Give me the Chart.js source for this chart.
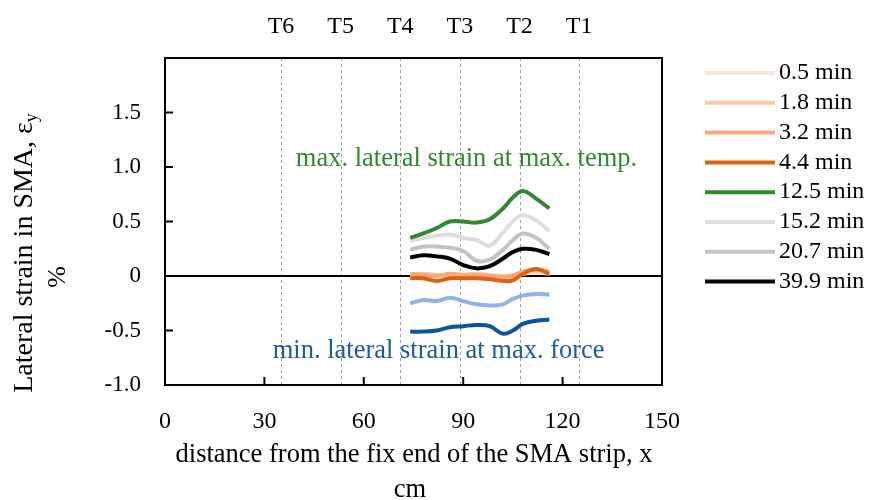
<!DOCTYPE html>
<html>
<head>
<meta charset="utf-8">
<script src="https://cdn.jsdelivr.net/npm/chart.js@4.4.1/dist/chart.umd.min.js"></script>
<style>
  html, body { margin: 0; padding: 0; background: #fff; }
  #wrap { width: 869px; height: 500px; }
</style>
</head>
<body>
<div id="wrap"><canvas id="chart" width="869" height="500"></canvas></div>
<script>
// distance along the strip (cm) where strain was sampled
const distance = [74, 78, 82, 86, 90, 94, 98, 102, 105, 108, 112, 116];

// lateral strain (%) per elapsed time
const strain05 = [0.00, 0.01, 0.00, 0.01, 0.00, 0.00, 0.01, 0.00, 0.00, 0.02, 0.03, 0.02];
const strain18 = [0.01, 0.02, 0.01, 0.00, 0.01, 0.02, 0.01, 0.00, 0.01, 0.03, 0.05, 0.03];
const strain32 = [0.02, 0.01, 0.00, 0.02, 0.01, 0.01, 0.00, -0.01, 0.00, 0.04, 0.06, 0.04];
const strain44 = [-0.02, -0.02, -0.045, -0.02, -0.02, -0.02, -0.03, -0.045, -0.04, 0.02, 0.065, 0.02];
const strain125 = [0.35, 0.39, 0.44, 0.50, 0.50, 0.49, 0.52, 0.62, 0.72, 0.78, 0.71, 0.62];
const strain152 = [0.32, 0.35, 0.37, 0.38, 0.35, 0.33, 0.28, 0.40, 0.50, 0.56, 0.51, 0.41];
const strain207 = [0.24, 0.27, 0.27, 0.26, 0.23, 0.14, 0.15, 0.24, 0.33, 0.39, 0.35, 0.25];
const strain399 = [0.17, 0.19, 0.18, 0.16, 0.10, 0.07, 0.09, 0.16, 0.22, 0.25, 0.24, 0.20];
// minimum lateral strain curves (not in legend)
const strainMinLight = [-0.25, -0.22, -0.23, -0.20, -0.23, -0.26, -0.27, -0.26, -0.21, -0.18, -0.165, -0.17];
const strainMinDark = [-0.51, -0.51, -0.50, -0.47, -0.46, -0.45, -0.46, -0.53, -0.50, -0.44, -0.41, -0.40];

const legendLabels = ['0.5 min', '1.8 min', '3.2 min', '4.4 min', '12.5 min', '15.2 min', '20.7 min', '39.9 min'];

// thermocouple positions along the strip
const sensorNames = ['T6', 'T5', 'T4', 'T3', 'T2', 'T1'];
const sensorPos = [35, 53, 71, 89, 107, 125];

const xTicks = [0, 30, 60, 90, 120, 150];
const yTicks = [-1.0, -0.5, 0, 0.5, 1.0, 1.5, 2.0];

const SERIF = '"Liberation Serif", "DejaVu Serif", serif';

function pts(ys) {
  return distance.map((x, i) => ({x: x, y: ys[i]}));
}

function line(label, ys, color, order) {
  return {
    label: label,
    data: pts(ys),
    borderColor: color,
    backgroundColor: color,
    borderWidth: 4,
    pointRadius: 0,
    tension: 0.4,
    fill: false,
    order: order
  };
}

const datasets = [
  line('0.5 min', strain05, '#fbe3d6', 9),
  line('1.8 min', strain18, '#f9c8aa', 8),
  line('3.2 min', strain32, '#f8ab7a', 7),
  line('4.4 min', strain44, '#e0600f', 6),
  line('12.5 min', strain125, '#2f8a2f', 1),
  line('15.2 min', strain152, '#dedede', 5),
  line('20.7 min', strain207, '#c4c4c4', 4),
  line('39.9 min', strain399, '#000000', 2),
  line('', strainMinLight, '#8db4e2', 3),
  line('', strainMinDark, '#0b559f', 3)
];

// frame, dashed sensor lines, zero line, inward ticks, labels, legend
const decorations = {
  id: 'decorations',
  beforeDatasetsDraw(chart) {
    const ctx = chart.ctx, a = chart.chartArea;
    const xs = chart.scales.x, ys = chart.scales.y;
    ctx.save();
    ctx.strokeStyle = '#a0a0a0';
    ctx.lineWidth = 1;
    ctx.setLineDash([3, 3]);
    sensorPos.forEach(p => {
      const px = Math.round(xs.getPixelForValue(p)) + 0.5;
      ctx.beginPath();
      ctx.moveTo(px, a.top);
      ctx.lineTo(px, a.bottom);
      ctx.stroke();
    });
    ctx.setLineDash([]);
    ctx.strokeStyle = '#000';
    ctx.lineWidth = 2;
    const y0 = ys.getPixelForValue(0);
    ctx.beginPath();
    ctx.moveTo(a.left, y0);
    ctx.lineTo(a.right, y0);
    ctx.stroke();
    ctx.restore();
  },
  afterDraw(chart) {
    const ctx = chart.ctx, a = chart.chartArea;
    const xs = chart.scales.x, ys = chart.scales.y;
    ctx.save();
    ctx.strokeStyle = '#000';
    ctx.lineWidth = 2;
    ctx.strokeRect(a.left, a.top, a.right - a.left, a.bottom - a.top);
    ctx.beginPath();
    xTicks.slice(1, -1).forEach(v => {
      const px = xs.getPixelForValue(v);
      ctx.moveTo(px, a.bottom);
      ctx.lineTo(px, a.bottom - 8);
    });
    yTicks.slice(1, -1).forEach(v => {
      if (v === 0) return;
      const py = ys.getPixelForValue(v);
      ctx.moveTo(a.left, py);
      ctx.lineTo(a.left + 8, py);
    });
    ctx.stroke();

    ctx.fillStyle = '#000';
    ctx.font = '24px ' + SERIF;
    ctx.textAlign = 'center';
    ctx.textBaseline = 'middle';
    sensorNames.forEach((n, i) => {
      ctx.fillText(n, xs.getPixelForValue(sensorPos[i]), 27);
    });

    // annotations
    ctx.font = '26.5px ' + SERIF;
    ctx.fillStyle = '#2f8a2f';
    ctx.fillText('max. lateral strain at max. temp.', xs.getPixelForValue(91), ys.getPixelForValue(1.07));
    ctx.fillStyle = '#1b5aa6';
    ctx.fillText('min. lateral strain at max. force', xs.getPixelForValue(82.6), ys.getPixelForValue(-0.69));

    // axis titles
    ctx.fillStyle = '#000';
    ctx.font = '26.5px ' + SERIF;
    ctx.fillText('distance from the fix end of the SMA strip, x', 414, 455);
    ctx.fillText('cm', 410, 490);

    ctx.save();
    ctx.translate(25, 253);
    ctx.rotate(-Math.PI / 2);
    const main = 'Lateral strain in SMA, \u03b5';
    ctx.font = '28px ' + SERIF;
    const w1 = ctx.measureText(main).width;
    ctx.font = '18px ' + SERIF;
    const w2 = ctx.measureText('y').width;
    const start = -(w1 + w2) / 2;
    ctx.textAlign = 'left';
    ctx.font = '28px ' + SERIF;
    ctx.fillText(main, start, 0);
    ctx.font = '18px ' + SERIF;
    ctx.fillText('y', start + w1, 7);
    ctx.restore();
    ctx.save();
    ctx.translate(58, 277);
    ctx.rotate(-Math.PI / 2);
    ctx.font = '26px ' + SERIF;
    ctx.fillText('%', 0, 0);
    ctx.restore();

    // legend
    ctx.font = '24px ' + SERIF;
    ctx.textAlign = 'left';
    ctx.lineWidth = 4;
    legendLabels.forEach((lab, i) => {
      const ds = chart.data.datasets.find(d => d.label === lab);
      const y = 73 + i * 29.8;
      ctx.strokeStyle = ds.borderColor;
      ctx.beginPath();
      ctx.moveTo(705, y);
      ctx.lineTo(775, y);
      ctx.stroke();
      ctx.fillStyle = '#000';
      ctx.fillText(lab, 779, y);
    });
    ctx.restore();
  }
};

new Chart(document.getElementById('chart'), {
  type: 'line',
  data: { datasets: datasets },
  options: {
    responsive: false,
    animation: false,
    devicePixelRatio: 1,
    layout: { padding: { left: 0, right: 207, top: 58, bottom: 0 } },
    plugins: { legend: { display: false }, tooltip: { enabled: false } },
    scales: {
      x: {
        type: 'linear',
        min: 0, max: 150,
        afterFit(s) { s.height = 115; },
        afterBuildTicks(s) { s.ticks = xTicks.map(v => ({value: v})); },
        grid: { display: false },
        border: { display: false },
        ticks: { color: '#000', padding: 14, font: { family: SERIF, size: 24 }, maxRotation: 0 }
      },
      y: {
        type: 'linear',
        min: -1, max: 2,
        afterFit(s) { s.width = 165; },
        afterBuildTicks(s) { s.ticks = yTicks.map(v => ({value: v})); },
        grid: { display: false },
        border: { display: false },
        ticks: {
          color: '#000', padding: 16, font: { family: SERIF, size: 23 },
          callback: v => v >= 2 ? '' : (v === 0 ? '0' : v.toFixed(1))
        }
      }
    }
  },
  plugins: [decorations]
});
</script>
</body>
</html>
